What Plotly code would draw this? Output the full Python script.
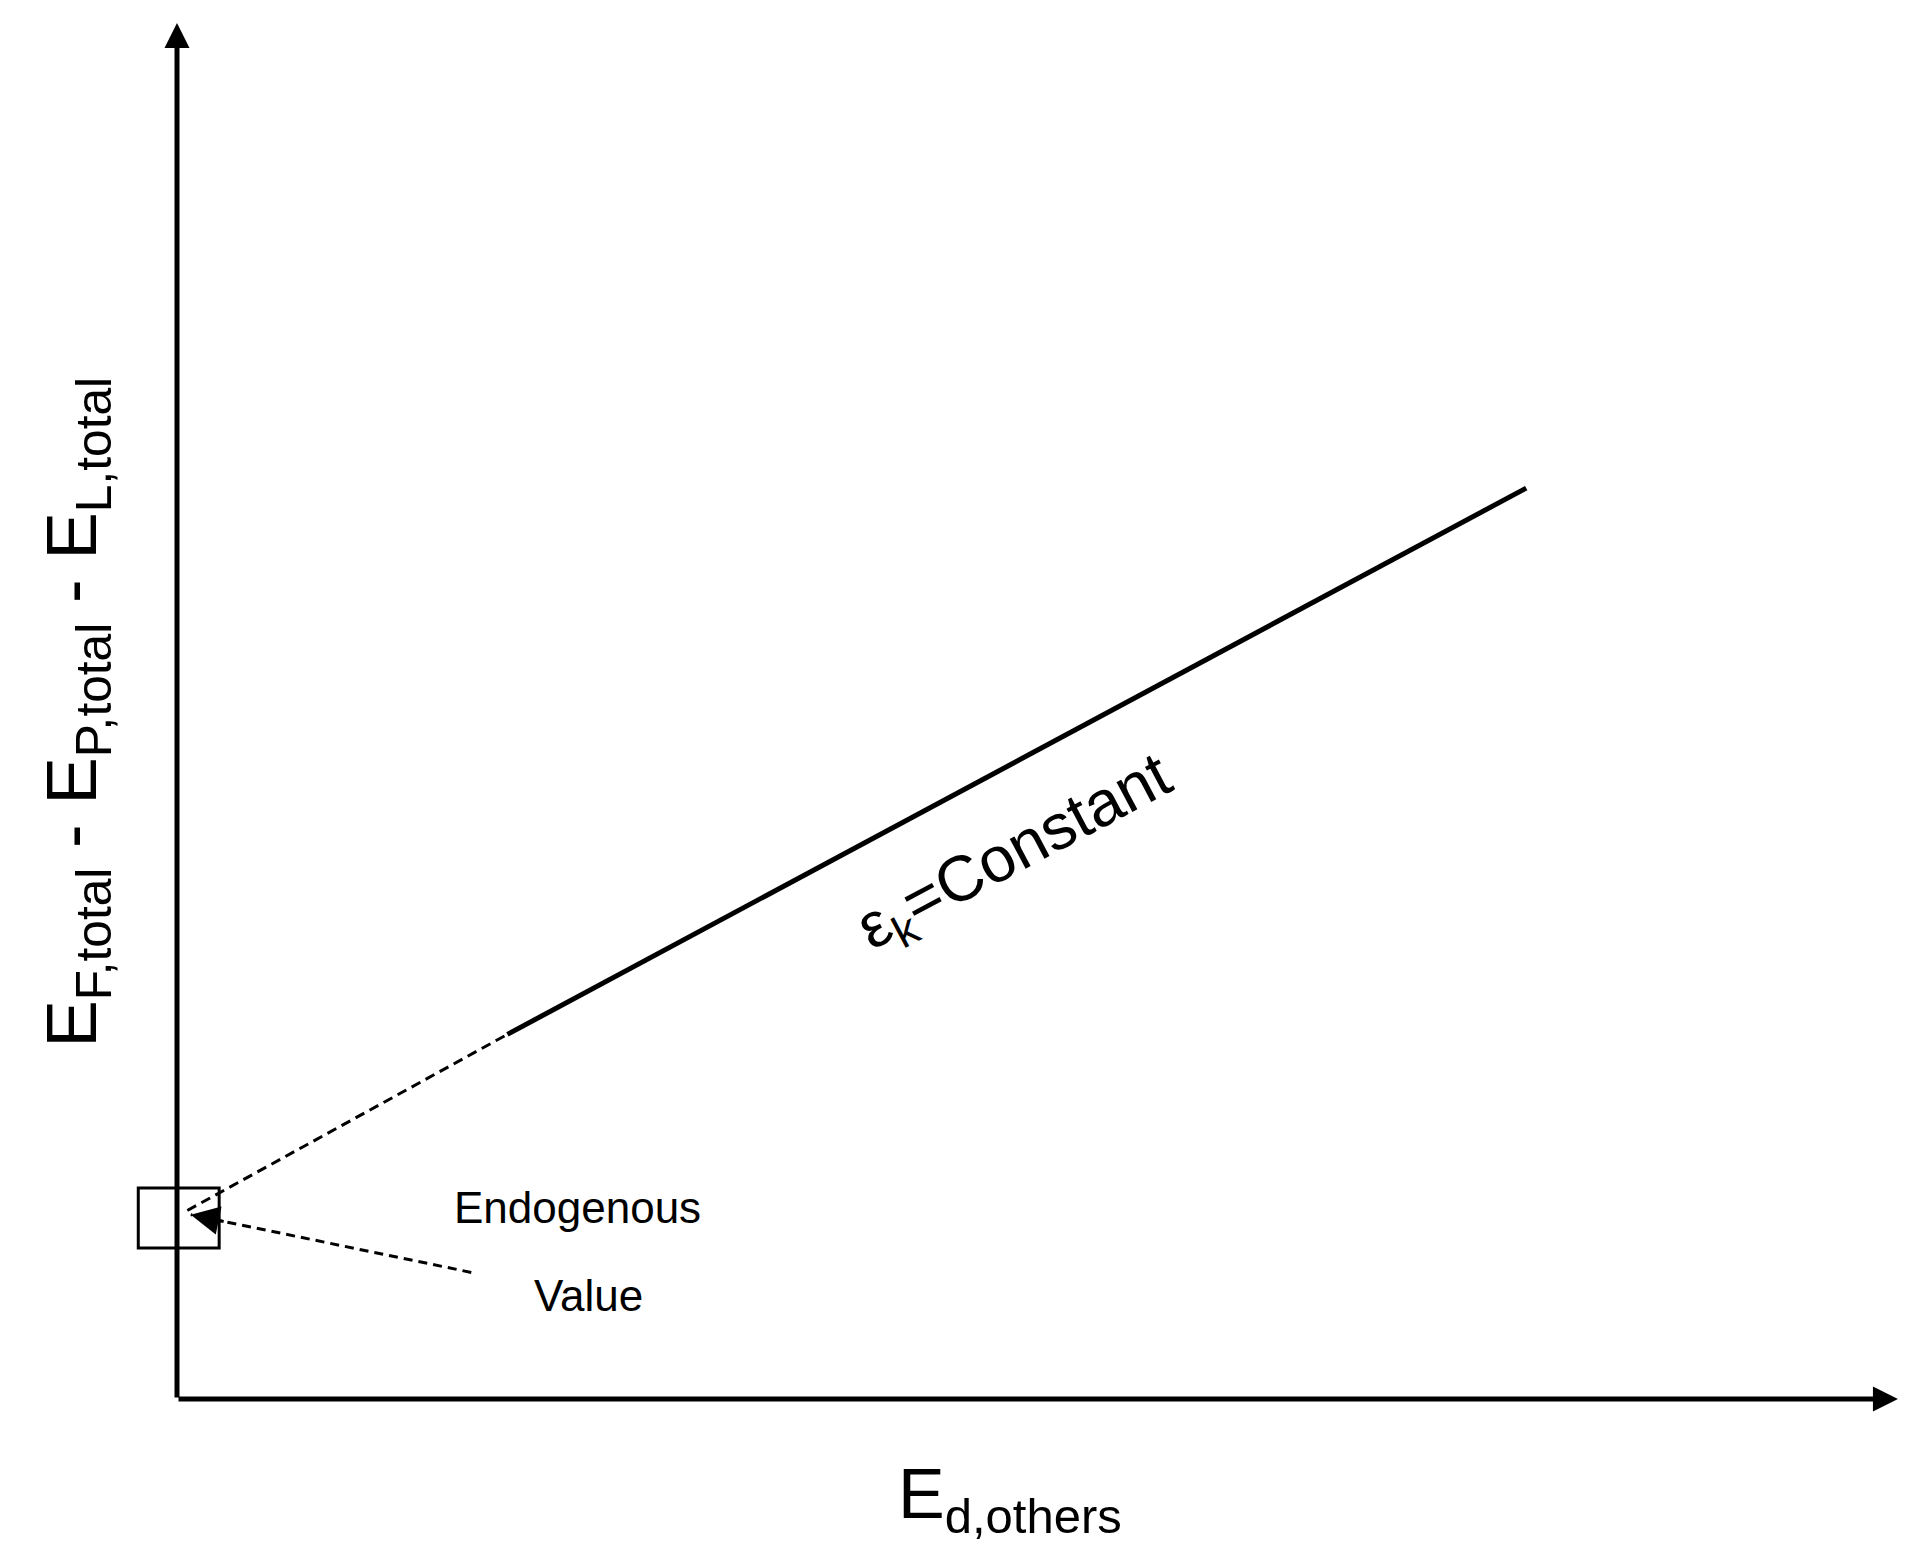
import plotly.graph_objects as go

# ---- data (axis units: origin at 0,0; axes run to 100) ----
solid_x = [19.2, 78.4]          # eps_k = constant, solid part
solid_y = [26.5, 66.2]
dash_x = [0.6, 19.2]            # dashed extrapolation towards the endogenous value
dash_y = [13.7, 26.5]
endog_x = 0.1                   # endogenous value (box centre)
endog_y = 13.15
box_half_w = 2.35
box_half_h = 2.18
value_arrow_x = [17.1, 0.8]     # dashed pointer from the "Value" label to the box
value_arrow_y = [9.2, 13.4]
axis_x_max = 100
axis_y_max = 100

x_title = "E<sub>d,others</sub>"
y_title = "E<sub>F,total</sub> - E<sub>P,total</sub> - E<sub>L,total</sub>"
line_label = "ε<sub>k</sub>=Constant"
endog_label_1 = "Endogenous"
endog_label_2 = "Value"

FONT = "Liberation Sans, Arial, sans-serif"

fig = go.Figure()

fig.add_trace(go.Scatter(x=dash_x, y=dash_y, mode="lines",
                         line=dict(color="black", width=3, dash="10px,6px"),
                         hoverinfo="skip", showlegend=False))
fig.add_trace(go.Scatter(x=solid_x, y=solid_y, mode="lines",
                         line=dict(color="black", width=5),
                         hoverinfo="skip", showlegend=False))
fig.add_trace(go.Scatter(x=value_arrow_x, y=value_arrow_y, mode="lines",
                         line=dict(color="black", width=3, dash="9px,6px"),
                         hoverinfo="skip", showlegend=False))

# box around the endogenous value
fig.add_shape(type="rect", xref="x", yref="y",
              x0=endog_x - box_half_w, x1=endog_x + box_half_w,
              y0=endog_y - box_half_h, y1=endog_y + box_half_h,
              line=dict(color="black", width=3))

# axes with arrowheads
fig.add_annotation(x=0, y=axis_y_max, ax=0, ay=0, axref="x", ayref="y",
                   xref="x", yref="y", text="", showarrow=True,
                   arrowhead=2, arrowsize=1.0, arrowwidth=5, arrowcolor="black")
fig.add_annotation(x=axis_x_max, y=0, ax=0, ay=0, axref="x", ayref="y",
                   xref="x", yref="y", text="", showarrow=True,
                   arrowhead=2, arrowsize=1.0, arrowwidth=5, arrowcolor="black")
# arrowhead of the pointer
fig.add_annotation(x=value_arrow_x[1], y=value_arrow_y[1],
                   ax=value_arrow_x[1] + 2.0, ay=value_arrow_y[1] - 0.52,
                   axref="x", ayref="y", xref="x", yref="y", text="",
                   showarrow=True, arrowhead=2, arrowsize=1.9, arrowwidth=3,
                   arrowcolor="black")

# texts
fig.add_annotation(x=23.3, y=13.9, xref="x", yref="y", text=endog_label_1,
                   showarrow=False, font=dict(family=FONT, size=44, color="black"))
fig.add_annotation(x=23.9, y=7.5, xref="x", yref="y", text=endog_label_2,
                   showarrow=False, font=dict(family=FONT, size=44, color="black"))
fig.add_annotation(x=48.7, y=39.6, xref="x", yref="y", text=line_label,
                   textangle=-28, showarrow=False,
                   font=dict(family=FONT, size=64, color="black"))
fig.add_annotation(x=48.4, y=-7.3, xref="x", yref="y", text=x_title,
                   showarrow=False, font=dict(family=FONT, size=70, color="black"))
fig.add_annotation(x=-5.8, y=49.9, xref="x", yref="y", text=y_title,
                   textangle=-90, showarrow=False,
                   font=dict(family=FONT, size=71, color="black"))

fig.update_layout(
    width=1932, height=1564,
    margin=dict(l=0, r=0, t=0, b=0),
    paper_bgcolor="white", plot_bgcolor="white",
    xaxis=dict(range=[-10.285, 101.98], visible=False, fixedrange=True),
    yaxis=dict(range=[-11.99, 101.67], visible=False, fixedrange=True),
    showlegend=False,
)

fig.write_html("out.html", config={"displayModeBar": False},
               post_script="document.body.style.margin='0';")
